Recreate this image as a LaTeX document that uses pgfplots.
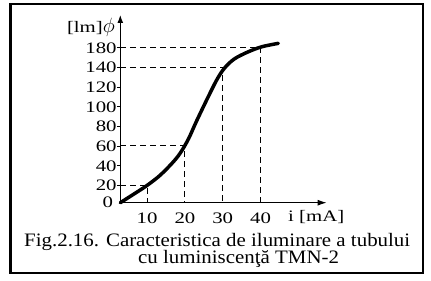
\documentclass[border=0pt]{standalone}
\usepackage{fontspec}
\setmainfont{Liberation Serif}
\newfontfamily\tickfont[FakeStretch=1.3]{Liberation Serif}
\newfontfamily\capfont[FakeStretch=1.10]{Liberation Serif}
\usepackage{pgfplots}
\pgfplotsset{compat=1.18}
\usetikzlibrary{arrows.meta}
\begin{document}
\begin{tikzpicture}[x=1bp,y=1bp]
\useasboundingbox (0,0) rectangle (431,281);
\fill[white] (0,0) rectangle (431,281);
\draw[line width=2bp] (10.5,276.7) rectangle (423.3,7.7);
\begin{axis}[
  at={(120.3bp,78.3bp)}, anchor=south west,
  scale only axis, width=206.4bp, height=187.7bp,
  xmin=2.9, xmax=57.5, ymin=2.7, ymax=193.3,
  axis lines=left, enlargelimits=false, clip=false,
  axis line style={line width=1.2bp},
  x axis line style={-{Latex[length=9bp,width=6bp]}},
  y axis line style={-{Latex[length=8bp,width=6bp]}},
  xtick={10,20,30,40},
  ytick={20,40,60,80,100,120,140,160},
  yticklabels={20,40,60,80,100,120,140,180},
  extra y ticks={2.7}, extra y tick labels={0},
  extra y tick style={major tick length=0pt, yticklabel style={xshift=-7bp}},
  x tick style={draw=none},
  y tick style={line width=1bp, black},
  tick align=outside, major tick length=3.5bp,
  ticklabel style={font=\tickfont\fontsize{16bp}{17bp}\selectfont, inner sep=0pt},
  xticklabel style={anchor=north, yshift=-6bp},
  yticklabel style={anchor=east, xshift=0bp},
  /pgf/number format/assume math mode=true,
]
% dashed guide lines
\addplot[black, line width=1bp, dash pattern=on 6bp off 4bp] coordinates {(2.9,20.6) (10,20.6) (10,2.7)};
\addplot[black, line width=1bp, dash pattern=on 6bp off 4bp] coordinates {(2.9,60.3) (20,60.3) (20,2.7)};
\addplot[black, line width=1bp, dash pattern=on 6bp off 4bp] coordinates {(2.9,140) (30,140) (30,2.7)};
\addplot[black, line width=1bp, dash pattern=on 6bp off 4bp] coordinates {(2.9,160.5) (40,160.5) (40,2.7)};
% characteristic curve
\addplot[black, line width=3.5bp, smooth, tension=0.55, line cap=round] coordinates {
(2.9,2.7) (6.5,11.5) (10,20.3) (13.5,30.8) (17,44.5) (19,54.5) (21,68) (23,85)
(26,109) (28.5,128) (30.5,139.5) (33,148.5) (36.5,155.5) (40.3,161) (44.7,164.5)};
\end{axis}
\node[anchor=base east, inner sep=0pt, font=\tickfont\fontsize{16bp}{17bp}\selectfont] at (115,248.3) {[lm]{\fontsize{21bp}{21bp}\selectfont$\phi$}};
\node[anchor=base west, inner sep=0pt, font=\tickfont\fontsize{16bp}{17bp}\selectfont] at (288,59.5) {i [mA]};
\node[anchor=base west, inner sep=0pt, font=\capfont\fontsize{19bp}{20bp}\selectfont] at (24,34.5) {Fig.2.16. Caracteristica de iluminare a tubului};
\node[anchor=base west, inner sep=0pt, font=\capfont\fontsize{19bp}{20bp}\selectfont] at (138,17.3) {cu luminiscenţă TMN-2};
\end{tikzpicture}
\end{document}
